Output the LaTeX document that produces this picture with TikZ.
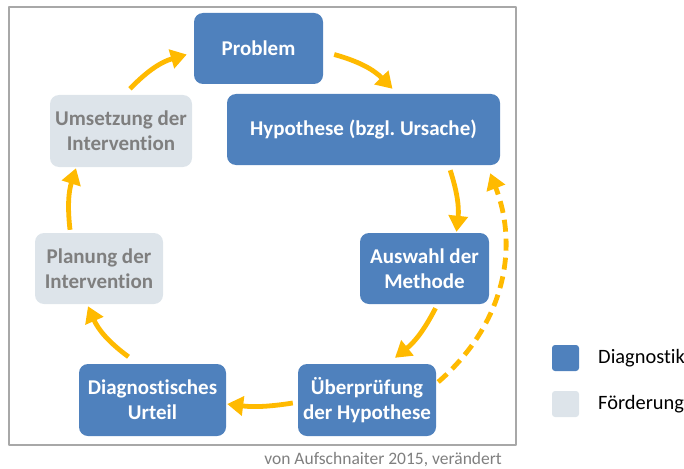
\documentclass[tikz,border=0pt]{standalone}
\usepackage{fontspec}
\setmainfont[Ligatures=NoCommon]{Carlito}
\frenchspacing
\usetikzlibrary{arrows.meta}
\definecolor{ffcqqq}{rgb}{1.,0.73,0.}
\definecolor{dnblue}{rgb}{0.31,0.506,0.741}
\definecolor{ddeeea}{rgb}{0.867,0.894,0.918}
\definecolor{sfsfsf}{rgb}{0.498,0.498,0.498}
\definecolor{aaaaaa}{rgb}{0.66,0.66,0.66}

\begin{document}
\begin{tikzpicture}[x=1pt,y=-1pt,line cap=butt,line join=round,
  box/.style={rectangle,rounded corners=9pt,align=center,inner sep=0pt,
    font=\bfseries\fontsize{21}{25}\selectfont,minimum height=71pt},
  diagbox/.style={box,fill=dnblue,text=white},
  foerbox/.style={box,fill=ddeeea,text=sfsfsf},
  arr/.style={draw=ffcqqq,line width=4.8pt,-{Triangle[length=16pt,width=19pt]}},
  legsq/.style={rectangle,rounded corners=3pt,minimum width=27pt,minimum height=26pt,inner sep=0pt}]
\useasboundingbox (0,0) rectangle (684,468);
\draw [color=aaaaaa,line width=1.2pt] (9,7) rectangle (516,445);
% Kreislauf
\node [diagbox,minimum width=129pt] (prob) at (258.5,48.5) {Problem};
\node [diagbox,minimum width=273pt] (hyp) at (363.5,129.5) {Hypothese (bzgl. Ursache)};
\node [diagbox,minimum width=129pt] (ausw) at (424.5,268.5) {Auswahl der\\Methode};
\node [diagbox,minimum width=138pt,minimum height=72pt] (ueber) at (367,400) {Überprüfung\\der Hypothese};
\node [diagbox,minimum width=147pt,minimum height=72pt] (urteil) at (152.5,400) {Diagnostisches\\Urteil};
\node [foerbox,minimum width=128pt] (plan) at (99,268.5) {Planung der\\Intervention};
\node [foerbox,minimum width=142pt,minimum height=72pt] (ums) at (121,131) {Umsetzung der\\Intervention};
\draw [arr] ([xshift=11pt,yshift=-6pt]prob.east) to[bend left=15] ([xshift=29pt,yshift=5pt]hyp.north);
\draw [arr] ([xshift=-50pt,yshift=-5pt]hyp.south east) to[bend left=12] ([xshift=32pt,yshift=1pt]ausw.north);
\draw [arr] ([xshift=11pt,yshift=-4pt]ausw.south) to[bend left=12] ([xshift=28pt,yshift=6pt]ueber.north);
\draw [arr] ([xshift=-5pt,yshift=-3pt]ueber.west) to[bend left=8] ([xshift=1pt,yshift=-4pt]urteil.east);
\draw [arr] ([xshift=-24pt,yshift=7pt]urteil.north) to[bend left=15] ([xshift=-11pt,yshift=-2pt]plan.south);
\draw [arr] ([xshift=-29pt,yshift=3pt]plan.north) to[bend left=12] ([xshift=-45pt,yshift=-1pt]ums.south);
\draw [arr] ([xshift=9pt,yshift=6pt]ums.north) to[bend left=15] ([xshift=-7pt,yshift=-6pt]prob.west);
\draw [arr,dash pattern=on 12pt off 7pt] ([xshift=2pt,yshift=18pt]ueber.east) to[bend right=35] ([xshift=-10pt,yshift=-8pt]hyp.south east);
% Legende
\node [legsq,fill=dnblue] (legdiag) at (565.5,358) {};
\node [legsq,fill=ddeeea] (legfoer) at (565.5,404) {};
\node [anchor=west,inner sep=0pt,font=\fontsize{20.4}{22}\selectfont] (txtdiag) at (598,358) {Diagnostik};
\node [anchor=west,inner sep=0pt,font=\fontsize{20.4}{22}\selectfont] (txtfoer) at (598,404) {Förderung};
\node [anchor=east,inner sep=0pt,text=sfsfsf,font=\fontsize{17.5}{19}\selectfont] (quelle) at (502,460) {von Aufschnaiter 2015, verändert};
\end{tikzpicture}
\end{document}
